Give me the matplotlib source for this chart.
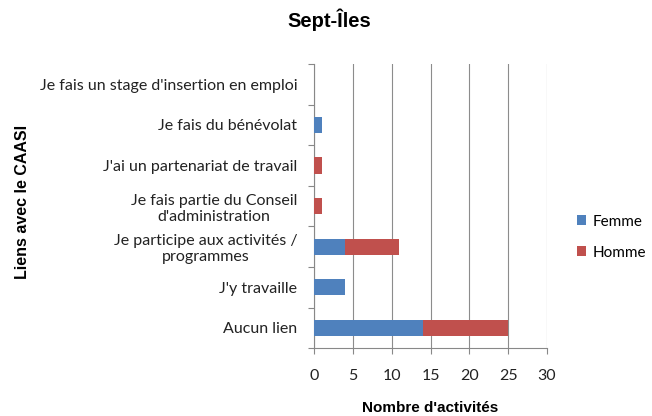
import matplotlib.pyplot as plt
import numpy as np

# Data (bottom to top)
categories = ["Aucun lien", "J'y travaille", "Je participe aux activités /\nprogrammes",
              "Je fais partie du Conseil\nd'administration", "J'ai un partenariat de travail",
              "Je fais du bénévolat", "Je fais un stage d'insertion en emploi"]
femme = [14, 4, 4, 0, 0, 1, 0]
homme = [11, 0, 7, 1, 1, 0, 0]

plt.rcParams['font.family'] = ['Lato', 'DejaVu Sans']

fig = plt.figure(figsize=(6.52, 4.16), dpi=100)
ax = fig.add_axes([0.4816, 0.163, 0.3574, 0.683])

y = np.arange(len(categories))
ax.barh(y, femme, height=0.4, color='#4F81BD', label='Femme', zorder=3)
ax.barh(y, homme, left=femme, height=0.4, color='#C0504D', label='Homme', zorder=3)

ax.set_xlim(0, 30)
ax.set_ylim(-0.5, len(categories) - 0.5)
ax.set_xticks(range(0, 31, 5))
ax.tick_params(axis='x', labelsize=11.5, colors='#888888', labelcolor='#222222', length=4, pad=11)
ax.set_yticks(np.arange(-0.5, len(categories), 1))
ax.set_yticklabels([])
ax.set_yticks(y, minor=True)
ax.set_yticklabels(categories, minor=True, fontsize=11.5, ha='right', multialignment='center',
                   color='#222222')
ax.tick_params(axis='y', which='minor', length=0, pad=12)
ax.tick_params(axis='y', which='major', length=4, colors='#888888')

ax.grid(axis='x', color='#8c8c8c', linewidth=0.8, zorder=0)
for s in ['top', 'right']:
    ax.spines[s].set_visible(False)
for s in ['left', 'bottom']:
    ax.spines[s].set_color('#888888')

fig.text(0.505, 0.952, 'Sept-Îles', ha='center', va='center', fontsize=14.5, fontweight='bold',
         family='Liberation Sans')
fig.text(0.66, 0.019, "Nombre d'activités", ha='center', va='center', fontsize=11,
         fontweight='bold', family='Liberation Sans')
fig.text(0.034, 0.515, 'Liens avec le CAASI', ha='center', va='center', rotation=90,
         fontsize=11.5, fontweight='bold', family='Liberation Sans')

fig.legend(loc='center left', bbox_to_anchor=(0.885, 0.43), frameon=False, fontsize=11,
           handlelength=0.6, handleheight=0.6, labelspacing=1.1, handletextpad=0.4,
           borderpad=0, borderaxespad=0)

fig.savefig('out.png')
